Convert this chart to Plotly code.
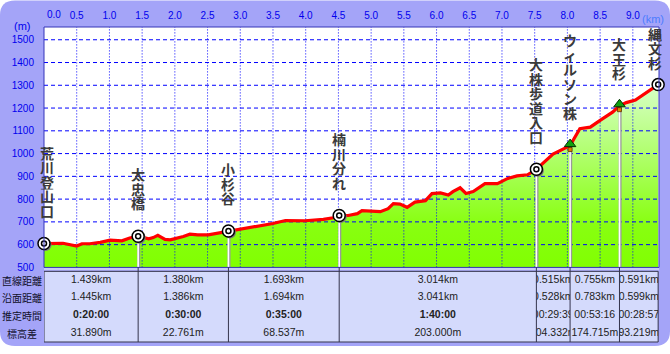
import numpy as np
import plotly.graph_objects as go

# ---------------- data ----------------
profile_km = [0.00, 0.29, 0.50, 0.58, 0.70, 0.86, 1.01, 1.12, 1.19, 1.31, 1.439,
              1.60, 1.67, 1.74, 1.85, 1.93, 2.03, 2.13, 2.23, 2.35, 2.51, 2.69, 2.819,
              3.00, 3.26, 3.50, 3.69, 3.79, 3.99, 4.27, 4.42, 4.512,
              4.65, 4.79, 4.86, 5.14, 5.26, 5.34, 5.44, 5.55, 5.67, 5.83, 5.93, 6.06,
              6.18, 6.25, 6.36, 6.45, 6.56, 6.74, 6.93, 7.08, 7.23, 7.39, 7.526,
              7.78, 8.041, 8.19, 8.35, 8.50, 8.69, 8.796, 8.90, 9.04, 9.387]
profile_m = [605, 606, 594, 604, 604, 610, 620, 619, 617, 629, 637,
             626, 631, 641, 623, 621, 628, 636, 646, 643, 643, 652, 660,
             666, 679, 693, 706, 706, 705, 711, 718, 728,
             728, 736, 749, 745, 758, 780, 778, 764, 787, 793, 824, 827,
             818, 833, 850, 825, 833, 868, 868, 890, 902, 907, 931,
             998, 1035, 1109, 1116, 1146, 1182, 1210, 1224, 1235, 1303]

wp_names = ["荒川登山口", "太忠橋", "小杉谷", "楠川分れ", "大株歩道入口", "ウィルソン株", "大王杉", "縄文杉"]
wp_m = [605, 637, 660, 728, 931, 1035, 1210, 1303]
wp_kind = ["point", "point", "point", "point", "point", "tree", "tree", "point"]

seg_direct = ["1.439km", "1.380km", "1.693km", "3.014km", "0.515km", "0.755km", "0.591km"]
seg_surface = ["1.445km", "1.386km", "1.694km", "3.041km", "0.528km", "0.783km", "0.599km"]
seg_time = ["0:20:00", "0:30:00", "0:35:00", "1:40:00", "00:29:39", "00:53:16", "00:28:57"]
seg_time_bold = [True, True, True, True, False, False, False]
seg_diff = ["31.890m", "22.761m", "68.537m", "203.000m", "104.332m", "174.715m", "93.219m"]
row_labels = ["直線距離", "沿面距離", "推定時間", "標高差"]

x_ticks = [0.5, 1.0, 1.5, 2.0, 2.5, 3.0, 3.5, 4.0, 4.5, 5.0, 5.5, 6.0, 6.5, 7.0, 7.5, 8.0, 8.5, 9.0]
y_ticks = [500, 600, 700, 800, 900, 1000, 1100, 1200, 1300, 1400, 1500]

# waypoint distances = cumulative straight distances
seg_km = [float(s.replace("km", "")) for s in seg_direct]
wp_km = [0.0] + list(np.round(np.cumsum(seg_km), 3))

# ---------------- layout constants ----------------
W, H = 670, 354
ML, MR, MT, MB = 44, 11, 27, 6
PLOT_BOTTOM_PX = 272
TABLE_TOP_PX = 276
X_RANGE = [0, 9.4]
Y_RANGE = [500, 1556]

pw = W - ML - MR
ph = H - MT - MB


def pxx(px):
    return (px - ML) / pw


def pxy(py):
    return (H - MB - py) / ph


main_ydom = [pxy(PLOT_BOTTOM_PX), 1.0]
table_top = pxy(TABLE_TOP_PX)
main_px_h = PLOT_BOTTOM_PX - MT
m_per_px = (Y_RANGE[1] - Y_RANGE[0]) / main_px_h
km_per_px = (X_RANGE[1] - X_RANGE[0]) / pw

BLUE = "#0000ee"
TXT = "Liberation Sans, Arial, sans-serif"
JP = "Noto Sans CJK JP, sans-serif"

fig = go.Figure()

# fill under profile
fig.add_trace(go.Scatter(
    x=profile_km, y=profile_m, mode="none", fill="tozeroy",
    fillgradient=dict(type="vertical", start=Y_RANGE[0], stop=1310,
                      colorscale=[[0, "#80ff00"], [0.25, "#88ff10"], [1, "#d8ffc8"]]),
    hoverinfo="skip", showlegend=False))

# grid lines (drawn over the fill)
gx, gy = [], []
for v in y_ticks[1:]:
    gx += [X_RANGE[0], X_RANGE[1], None]
    gy += [v, v, None]
fig.add_trace(go.Scatter(x=gx, y=gy, mode="lines",
                         line=dict(color="#0000ff", width=1, dash="4px,3px"),
                         hoverinfo="skip", showlegend=False))
vx, vy = [], []
for v in x_ticks:
    vx += [v, v, None]
    vy += [Y_RANGE[0], Y_RANGE[1], None]
fig.add_trace(go.Scatter(x=vx, y=vy, mode="lines",
                         line=dict(color="#0000ff", width=1, dash="1px,2px"),
                         hoverinfo="skip", showlegend=False))

# poles under intermediate waypoints
px_, py_ = [], []
for k, m in zip(wp_km[1:-1], wp_m[1:-1]):
    px_ += [k, k, None]
    py_ += [Y_RANGE[0], m, None]
fig.add_trace(go.Scatter(x=[v + 0.6 * km_per_px if v is not None else None for v in px_], y=py_,
                         mode="lines", line=dict(color="#9a9a9a", width=3),
                         hoverinfo="skip", showlegend=False))
fig.add_trace(go.Scatter(x=px_, y=py_, mode="lines", line=dict(color="#ffffff", width=1.6),
                         hoverinfo="skip", showlegend=False))

# profile line
fig.add_trace(go.Scatter(x=profile_km, y=profile_m, mode="lines",
                         line=dict(color="#ff0000", width=3.2),
                         hoverinfo="skip", showlegend=False))

# waypoint markers
ck = [k for k, t in zip(wp_km, wp_kind) if t == "point"]
cm = [m for m, t in zip(wp_m, wp_kind) if t == "point"]
tk = [k for k, t in zip(wp_km, wp_kind) if t == "tree"]
tm = [m for m, t in zip(wp_m, wp_kind) if t == "tree"]

fig.add_trace(go.Scatter(x=[k + 1.5 * km_per_px for k in ck], y=[m - 1.5 * m_per_px for m in cm],
                         mode="markers", marker=dict(symbol="circle", size=12, color="#7a7a7a"),
                         cliponaxis=False, hoverinfo="skip", showlegend=False))
fig.add_trace(go.Scatter(x=ck, y=cm, mode="markers",
                         marker=dict(symbol="circle", size=12, color="#ffffff",
                                     line=dict(color="#000000", width=1.5)),
                         cliponaxis=False, hoverinfo="skip", showlegend=False))
fig.add_trace(go.Scatter(x=ck, y=cm, mode="markers",
                         marker=dict(symbol="circle-open", size=5, color="#000000",
                                     line=dict(width=1.5)),
                         cliponaxis=False, hoverinfo="skip", showlegend=False))

fig.add_trace(go.Scatter(x=tk, y=[m - 4 * m_per_px for m in tm], mode="markers",
                         marker=dict(symbol="square", size=4, color="#e08a00",
                                     line=dict(color="#5a3000", width=0.8)),
                         hoverinfo="skip", showlegend=False))
fig.add_trace(go.Scatter(x=tk, y=[m + 1.5 * m_per_px for m in tm], mode="markers",
                         marker=dict(symbol="triangle-up", size=10, color="#10a010",
                                     line=dict(color="#003000", width=1)),
                         hoverinfo="skip", showlegend=False))

# table text (one clipped subplot per column)
n_cols = len(seg_direct)
layout_axes = {}
for i in range(n_cols):
    ax = f"x{i + 2}"
    layout_axes[f"xaxis{i + 2}"] = dict(domain=[wp_km[i] / X_RANGE[1], wp_km[i + 1] / X_RANGE[1]],
                                        range=[0, 1], visible=False, anchor="y2", fixedrange=True)
    t = f"<b>{seg_time[i]}</b>" if seg_time_bold[i] else seg_time[i]
    fig.add_trace(go.Scatter(
        x=[0.5] * 4, y=[0.5, 1.5, 2.5, 3.5],
        text=[seg_direct[i], seg_surface[i], t, seg_diff[i]],
        mode="text", textposition="middle center", cliponaxis=True,
        textfont=dict(family=TXT, size=10.5, color="#222222"),
        xaxis=ax, yaxis="y2", hoverinfo="skip", showlegend=False))

# ---------------- shapes ----------------
def rr_path(x0, y0, x1, y1, r):
    pts = [("M", x0 + r, y0), ("L", x1 - r, y0), ("Q", x1, y0, x1, y0 + r),
           ("L", x1, y1 - r), ("Q", x1, y1, x1 - r, y1), ("L", x0 + r, y1),
           ("Q", x0, y1, x0, y1 - r), ("L", x0, y0 + r), ("Q", x0, y0, x0 + r, y0)]
    s = ""
    for p in pts:
        cmd = p[0]
        coords = p[1:]
        parts = []
        for j in range(0, len(coords), 2):
            parts.append(f"{pxx(coords[j]):.5f},{pxy(coords[j + 1]):.5f}")
        s += cmd + " " + " ".join(parts) + " "
    return s + "Z"


shapes = [
    dict(type="path", xref="paper", yref="paper", path=rr_path(0, 0, W, 352, 15),
         fillcolor="#a4a4f8", line=dict(width=0), layer="below"),
    dict(type="rect", xref="paper", yref="paper", x0=0, x1=1, y0=main_ydom[0], y1=1,
         fillcolor="#ffffff", line=dict(width=0), layer="below"),
    dict(type="rect", xref="paper", yref="paper", x0=0, x1=1, y0=pxy(PLOT_BOTTOM_PX + 3), y1=main_ydom[0],
         fillcolor="#c8ccf8", line=dict(width=0), layer="below"),
    dict(type="rect", xref="x", yref="paper", x0=wp_km[0], x1=wp_km[-1], y0=0, y1=table_top,
         fillcolor="#d4dafc", line=dict(color="#34344c", width=1), layer="below"),
    dict(type="rect", xref="paper", yref="paper", x0=0, x1=1, y0=main_ydom[0], y1=1,
         fillcolor="rgba(0,0,0,0)", line=dict(color="#3434b8", width=1), layer="above"),
]
for k in wp_km[1:-1]:
    shapes.append(dict(type="line", xref="x", yref="paper", x0=k, x1=k, y0=0, y1=main_ydom[0],
                       line=dict(color="#34344c", width=1), layer="above"))

# ---------------- annotations ----------------
ann = []
STEP = 14.5
for idx, (name, k, m) in enumerate(zip(wp_names, wp_km, wp_m)):
    gap = 14 if idx == len(wp_names) - 1 else 25
    xs = 3 if idx == 0 else (-3 if idx == len(wp_names) - 1 else 0)
    n = len(name)
    for i, ch in enumerate(name):
        ann.append(dict(x=k, y=m, xref="x", yref="y", text=f"<b>{ch}</b>", showarrow=False,
                        xanchor="center", yanchor="middle", xshift=xs,
                        yshift=gap + (n - 1 - i) * STEP + STEP / 2,
                        height=STEP, borderpad=0,
                        font=dict(family=JP, size=14, color="#3a3a3a")))

for i, lab in enumerate(row_labels):
    ann.append(dict(x=pxx(22), y=i + 0.5, xref="paper", yref="y2", text=lab, showarrow=False,
                    xanchor="center", yanchor="middle",
                    font=dict(family=JP, size=10, color="#10102a")))

ann.append(dict(x=0, y=1, xref="x", yref="paper", text="0.0", showarrow=False, xshift=10,
                xanchor="center", yanchor="middle", yshift=13,
                font=dict(family=TXT, size=10, color=BLUE)))
ann.append(dict(x=pxx(22), y=pxy(26), xref="paper", yref="paper", text="(m)", showarrow=False,
                xanchor="center", yanchor="middle",
                font=dict(family=TXT, size=11, color=BLUE)))
ann.append(dict(x=pxx(653), y=pxy(19), xref="paper", yref="paper", text="(km)", showarrow=False,
                xanchor="center", yanchor="middle",
                font=dict(family=TXT, size=11, color="#4c7cff")))

fig.update_layout(
    width=W, height=H, margin=dict(l=ML, r=MR, t=MT, b=MB, pad=0),
    paper_bgcolor="#ffffff", plot_bgcolor="rgba(0,0,0,0)",
    showlegend=False,
    xaxis=dict(domain=[0, 1], range=X_RANGE, side="top", anchor="y",
               tickvals=x_ticks, ticktext=[f"{v:.1f}" for v in x_ticks],
               tickfont=dict(family=TXT, size=10, color=BLUE), ticklabelstandoff=5,
               showgrid=False, zeroline=False, showline=False, ticks="", fixedrange=True),
    yaxis=dict(domain=main_ydom, range=Y_RANGE, anchor="x",
               tickvals=y_ticks, ticktext=[str(v) for v in y_ticks],
               tickfont=dict(family=TXT, size=10, color=BLUE), ticklabelstandoff=9,
               showgrid=False, zeroline=False, showline=False, ticks="", fixedrange=True),
    yaxis2=dict(domain=[0, table_top], range=[4, 0], visible=False, anchor="x2", fixedrange=True),
    shapes=shapes, annotations=ann,
    **layout_axes,
)

fig.write_html("out.html")
